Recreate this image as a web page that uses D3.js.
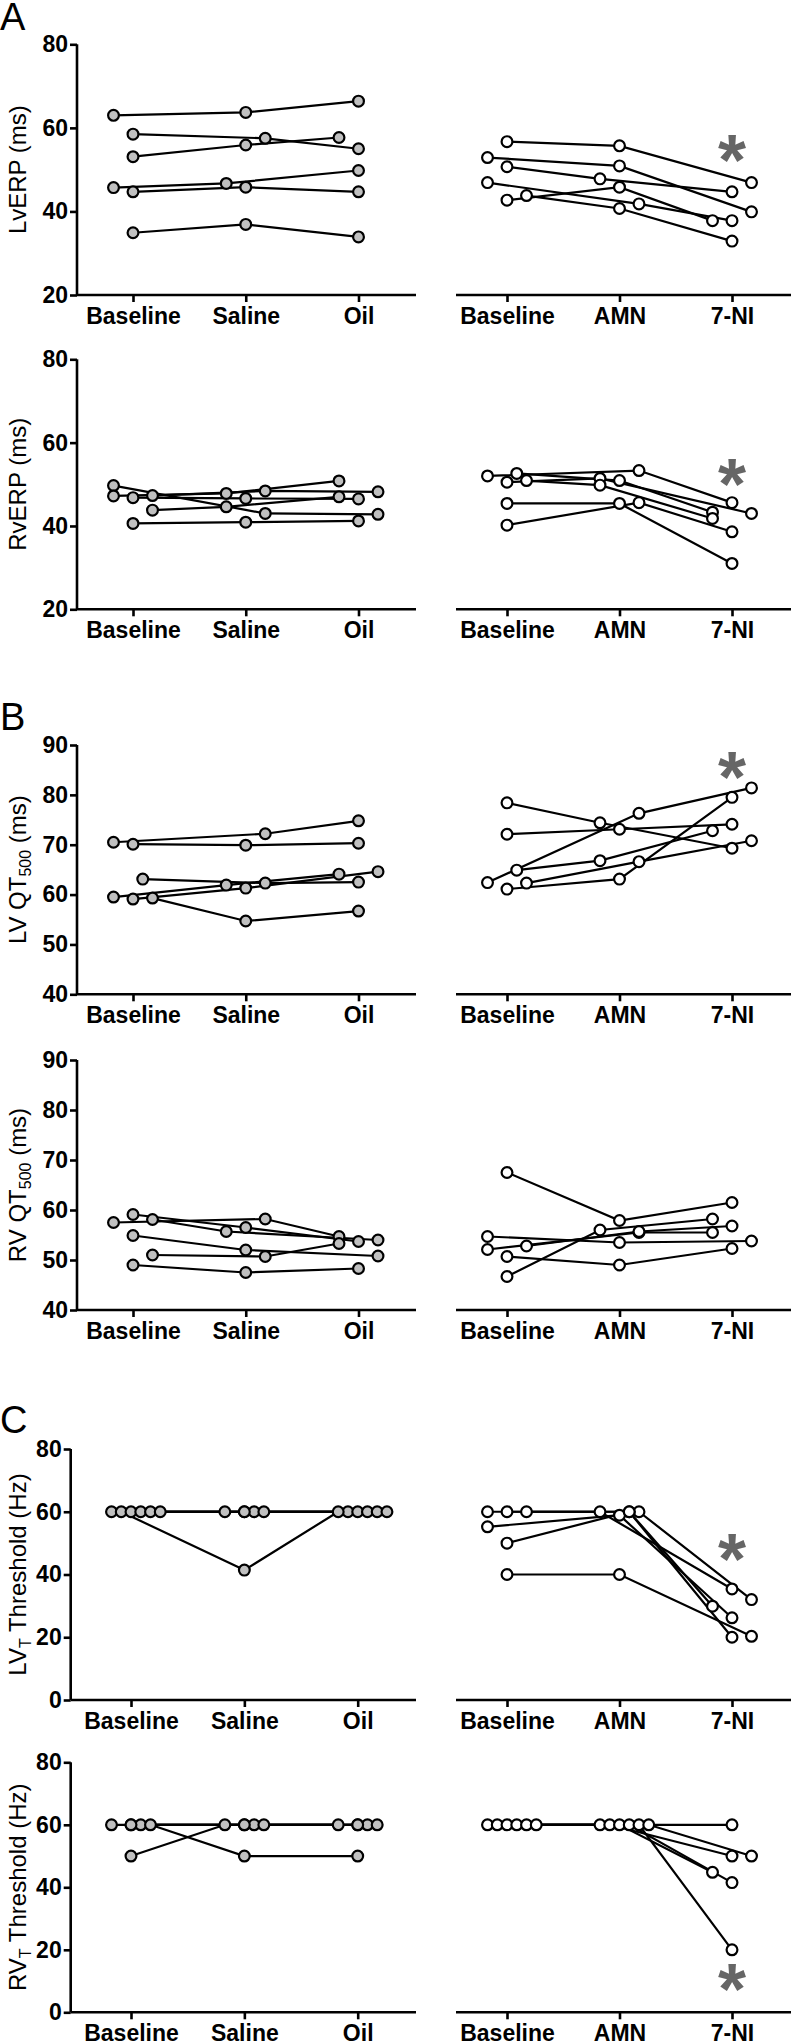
<!DOCTYPE html>
<html><head><meta charset="utf-8">
<script src="https://cdn.jsdelivr.net/npm/d3@7"></script>
<style>body{margin:0;background:#fff}svg{display:block}</style>
</head><body>
<svg id="chart" width="791" height="2043"></svg>
<script>
// ---------- DATA ----------
const ctrlCats = ["Baseline", "Saline", "Oil"];
const drugCats = ["Baseline", "AMN", "7-NI"];

const ticksErp = [20, 40, 60, 80];
const ticksQt = [40, 50, 60, 70, 80, 90];
const ticksThr = [0, 20, 40, 60, 80];

// each row = one animal: values at the three time points
const lvErpCtrl = [[63,63.7,66.4],[58.5,57.5,55.0],[53.1,55.9,57.7],[45.7,46.7,49.8],[44.7,45.8,44.7],[34.9,36.9,33.9]];
const lvErpCtrlJit = [[-1,0,0],[0,1,0],[0,0,-1],[-1,-1,0],[0,0,0],[0,0,0]];
const lvErpDrug = [[56.7,55.7,46.9],[52.9,50.9,39.9],[50.7,47.8,44.7],[46.9,41.8,37.8],[42.7,45.8,37.8],[43.8,40.7,32.9]];
const lvErpDrugJit = [[0,0,1],[-1,0,1],[0,-1,0],[-1,1,0],[0,0,-1],[1,0,0]];

const rvErpCtrl = [[49.7,43.0,42.8],[47.2,47.8,50.8],[46.8,46.6,46.5],[47.3,48.4,48.2],[43.8,44.6,47.0],[40.6,40.9,41.2]];
const rvErpCtrlJit = [[-1,1,1],[-1,-1,-1],[0,0,0],[1,1,1],[1,-1,-1],[0,0,0]];
const rvErpDrug = [[52.0,53.3,45.6],[50.5,51.4,43.0],[52.6,50.9,43.3],[50.9,49.8,41.8],[45.4,45.4,31.0],[40.2,45.6,38.6]];
const rvErpDrugJit = [[-1,1,0],[0,-1,1],[0.5,0,-1],[1,-1,-1],[0,0,0],[0,1,0]];

const lvQtCtrl = [[70.5,72.2,74.8],[70.1,69.9,70.3],[63.1,62.3,62.5],[59.5,61.9,64.1],[59.1,61.3,64.6],[59.3,54.7,56.7]];
const lvQtCtrlJit = [[-1,1,0],[0,0,0],[0.5,1,0],[-1,-1,-1],[0,0,1],[1,0,0]];
const lvQtDrug = [[78.4,74.4,69.3],[72.1,73.1,74.1],[62.4,76.3,81.4],[64.9,66.8,72.8],[61.1,63.1,79.5],[62.3,66.6,70.8]];
const lvQtDrugJit = [[0,-1,0],[0,0,0],[-1,1,1],[0.5,-1,-1],[0,0,0],[1,1,1]];

const rvQtCtrl = [[57.5,58.2,54.7],[59.1,56.5,53.7],[58.1,55.7,54.0],[54.9,52.0,50.8],[51.0,50.7,53.3],[49.0,47.5,48.3]];
const rvQtCtrlJit = [[-1,1,-1],[0,0,0],[1,-1,1],[0,0,1],[1,1,-1],[0,0,0]];
const rvQtDrug = [[67.5,57.9,61.5],[46.7,56.0,58.2],[50.7,49.0,52.3],[54.7,53.5,53.8],[52.1,55.5,55.5],[52.8,55.7,56.8]];
const rvQtDrugJit = [[0,0,0],[0,-1,-1],[0,0,0],[-1,0,1],[-1,1,-1],[1,1,0]];

const lvThrCtrl = [[60,60,60],[60,41.4,60],[60,60,60],[60,60,60],[60,60,60],[60,60,60]];
const lvThrCtrlJit = [[-1,-1,-0.5],[-0.5,0,-1],[0,0,0],[0.5,0.5,0.5],[1,1,1],[1.5,0,1.5]];
const lvThrDrug = [[60,60,35.4],[60,60,32.0],[60,60,29.9],[55.2,58.9,26.2],[50.0,60,20.0],[40,40,20.3]];
const lvThrDrugJit = [[-1,-1,0],[0,1,1],[1,0.5,-1],[-1,0,0],[0,0.5,0],[0,0,1]];

const rvThrCtrl = [[60,60,60],[60,60,60],[60,60,60],[60,50,50],[50,60,60],[60,60,60]];
const rvThrCtrlJit = [[-1,0,-1],[0,0.5,0],[0.5,1,0.5],[1,0,0],[0,-1,1],[0,0,0]];
const rvThrDrug = [[60,60,60],[60,60,50],[60,60,44.8],[60,60,41.5],[60,60,20],[60,60,50]];
const rvThrDrugJit = [[-1,-1,0],[-0.5,-0.5,0],[0,0,-1],[0.5,0.5,0],[1,1,0],[1.5,1.5,1]];

// significance marker levels (value on y axis, at 7-NI)
const starLvErp = 56, starRvErp = 53.7, starLvQt = 86.5, starLvThr = 49.8, starRvThr = 12.2;

// ---------- LAYOUT ----------
const svg = d3.select("#chart");
const FONT = "'Liberation Sans', Arial, Helvetica, sans-serif";
const slotPx = 19.5;

const rows = [
  {top:44.3, bot:295, dom:[20,80], ticks:ticksErp, axisX:77, lx:[133,358.5], title:[["LvERP (ms)"]], letter:"A", ly:30,
   ctrl:lvErpCtrl, cj:lvErpCtrlJit, drug:lvErpDrug, dj:lvErpDrugJit, star:starLvErp},
  {top:359.3, bot:609.3, dom:[20,80], ticks:ticksErp, axisX:77, lx:[133,358.5], title:[["RvERP (ms)"]],
   ctrl:rvErpCtrl, cj:rvErpCtrlJit, drug:rvErpDrug, dj:rvErpDrugJit, star:starRvErp},
  {top:745, bot:994.3, dom:[40,90], ticks:ticksQt, axisX:77, lx:[133,358.5], title:[["LV QT"],["500","sub"],[" (ms)"]], letter:"B", ly:730,
   ctrl:lvQtCtrl, cj:lvQtCtrlJit, drug:lvQtDrug, dj:lvQtDrugJit, star:starLvQt},
  {top:1060, bot:1310, dom:[40,90], ticks:ticksQt, axisX:77, lx:[133,358.5], title:[["RV QT"],["500","sub"],[" (ms)"]],
   ctrl:rvQtCtrl, cj:rvQtCtrlJit, drug:rvQtDrug, dj:rvQtDrugJit},
  {top:1449, bot:1700, dom:[0,80], ticks:ticksThr, axisX:70.7, lx:[131,357.7], title:[["LV"],["T","sub"],[" Threshold (Hz)"]], letter:"C", ly:1433,
   ctrl:lvThrCtrl, cj:lvThrCtrlJit, drug:lvThrDrug, dj:lvThrDrugJit, star:starLvThr},
  {top:1762.3, bot:2012.3, dom:[0,80], ticks:ticksThr, axisX:70.7, lx:[131,357.7], title:[["RV"],["T","sub"],[" Threshold (Hz)"]],
   ctrl:rvThrCtrl, cj:rvThrCtrlJit, drug:rvThrDrug, dj:rvThrDrugJit, star:starRvThr}
];

const rightRange = [507, 732];
const leftAxisEnd = 416, rightAxisStart = 456, rightAxisEnd = 795;

function styleAxis(g) {
  g.selectAll("path.domain").attr("stroke", "#000").attr("stroke-width", 2.6);
  g.selectAll(".tick line").attr("stroke", "#000").attr("stroke-width", 2.6);
  g.selectAll("text").attr("fill", "#000").style("font-family", FONT)
    .style("font-weight", "bold").style("font-size", "23px");
}

rows.forEach(r => {
  const y = d3.scaleLinear().domain(r.dom).range([r.bot, r.top]);
  const xL = d3.scalePoint().domain(ctrlCats).range(r.lx);
  const xR = d3.scalePoint().domain(drugCats).range(rightRange);

  // y axis
  const gy = svg.append("g").attr("transform", `translate(${r.axisX},0)`)
    .call(d3.axisLeft(y).tickValues(r.ticks).tickSize(7).tickSizeOuter(0).tickPadding(2).tickFormat(d3.format("d")));
  styleAxis(gy);
  gy.select("path.domain").attr("d", `M0,${r.top}V${r.bot}`);

  // x axes
  const gxl = svg.append("g").attr("transform", `translate(0,${r.bot})`)
    .call(d3.axisBottom(xL).tickSize(7).tickSizeOuter(0));
  styleAxis(gxl);
  gxl.select("path.domain").attr("d", `M${r.axisX},0H${leftAxisEnd}`);
  gxl.selectAll("text").attr("dy", null).attr("y", 29);

  const gxr = svg.append("g").attr("transform", `translate(0,${r.bot})`)
    .call(d3.axisBottom(xR).tickSize(7).tickSizeOuter(0));
  styleAxis(gxr);
  gxr.select("path.domain").attr("d", `M${rightAxisStart},0H${rightAxisEnd}`);
  gxr.selectAll("text").attr("dy", null).attr("y", 29);

  // y title
  const mid = (r.top + r.bot) / 2;
  const t = svg.append("text")
    .attr("transform", `translate(26,${mid}) rotate(-90)`)
    .attr("text-anchor", "middle")
    .style("font-family", FONT).style("font-size", "24px").attr("fill", "#000");
  r.title.forEach(([s, kind], i) => {
    const ts = t.append("tspan").text(s);
    if (kind === "sub") ts.attr("dy", 5).style("font-size", "16px");
    else if (i > 0 && r.title[i-1][1] === "sub") ts.attr("dy", -5);
  });

  // panel letter
  if (r.letter) {
    svg.append("text").attr("x", 0).attr("y", r.ly).text(r.letter)
      .style("font-family", FONT).style("font-size", "38px").attr("fill", "#000");
  }

  // data
  const groups = [
    {data: r.ctrl, jit: r.cj, x: xL, cats: ctrlCats, fill: "#c0c0c0"},
    {data: r.drug, jit: r.dj, x: xR, cats: drugCats, fill: "#ffffff"}
  ];
  groups.forEach(gp => {
    const pts = gp.data.map((vals, i) => vals.map((v, j) => ({
      cx: gp.x(gp.cats[j]) + gp.jit[i][j] * slotPx, cy: y(v)
    })));
    const line = d3.line().x(d => d.cx).y(d => d.cy);
    svg.append("g").selectAll("path").data(pts).join("path")
      .attr("d", line).attr("fill", "none").attr("stroke", "#000").attr("stroke-width", 2.2);
    svg.append("g").selectAll("circle").data(pts.flat()).join("circle")
      .attr("cx", d => d.cx).attr("cy", d => d.cy).attr("r", 5.4)
      .attr("fill", gp.fill).attr("stroke", "#000").attr("stroke-width", 2.2);
  });

  if (r.star !== undefined) {
    const cx = xR("7-NI"), cy = y(r.star);
    svg.append("text").attr("x", cx).attr("y", cy + 40).attr("text-anchor", "middle")
      .text("*").style("font-family", FONT).style("font-weight", "bold")
      .style("font-size", "72px").attr("fill", "#666");
  }
});
</script>
</body></html>
